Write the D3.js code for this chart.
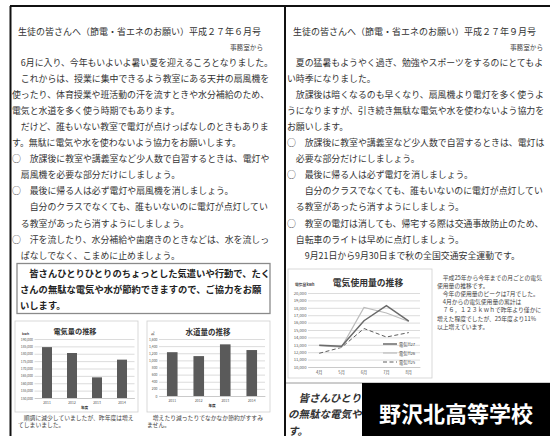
<!DOCTYPE html>
<html>
<head>
<meta charset="utf-8">
<script src="https://cdn.jsdelivr.net/npm/d3@7"></script>
<style>
  html, body { margin: 0; padding: 0; background: #fff; }
  svg { display: block; }
  text { font-family: "Noto Sans CJK JP", "Noto Sans", sans-serif; }
</style>
</head>
<body>
<svg id="sheet" width="550" height="436"></svg>
<script>
// ---- June issue ----
const juneTitle = "生徒の皆さんへ（節電・省エネのお願い）平成２７年６月号";
const sender = "事務室から";
const juneLines = [
  "　6月に入り、今年もいよいよ暑い夏を迎えるころとなりました。",
  "　これからは、授業に集中できるよう教室にある天井の扇風機を",
  "使ったり、体育授業や班活動の汗を流すときや水分補給のため、",
  "電気と水道を多く使う時期でもあります。",
  "　だけど、誰もいない教室で電灯が点けっぱなしのときもありま",
  "す。無駄に電気や水を使わないよう協力をお願いします。",
  "○　放課後に教室や講義室など少人数で自習するときは、電灯や",
  "　扇風機を必要な部分だけにしましょう。",
  "○　最後に帰る人は必ず電灯や扇風機を消しましょう。",
  "　　自分のクラスでなくても、誰もいないのに電灯が点灯してい",
  "　る教室があったら消すようにしましょう。",
  "○　汗を流したり、水分補給や歯磨きのときなどは、水を流しっ",
  "　ぱなしでなく、こまめに止めましょう。"
];
const juneAppeal = [
  "　皆さんひとりひとりのちょっとした気遣いや行動で、たく",
  "さんの無駄な電気や水が節約できますので、ご協力をお願",
  "いします。"
];
const powerCaption = ["　順調に減少していましたが、昨年度は増え", "てしまいました。"];
const waterCaption = ["　増えたり減ったりでなかなか節約がすすみ", "ません。"];

// yearly totals (bar charts)
const fiscalYears = ["2011", "2012", "2013", "2014"];
const powerKwh = [184500, 180500, 164000, 176000];
const powerTicks = [150000, 155000, 160000, 165000, 170000, 175000, 180000, 185000, 190000];
const waterM3 = [1230, 1120, 1450, 1290];
const waterTicks = [0, 200, 400, 600, 800, 1000, 1200, 1400, 1600];

// ---- September issue ----
const septTitle = "生徒の皆さんへ（節電・省エネのお願い）平成２７年９月号";
const septLines = [
  "　夏の猛暑もようやく過ぎ、勉強やスポーツをするのにとてもよ",
  "い時季になりました。",
  "　放課後は暗くなるのも早くなり、扇風機より電灯を多く使うよ",
  "うになりますが、引き続き無駄な電気や水を使わないよう協力を",
  "お願いします。",
  "○　放課後に教室や講義室など少人数で自習するときは、電灯は",
  "　必要な部分だけにしましょう。",
  "○　最後に帰る人は必ず電灯を消しましょう。",
  "　　自分のクラスでなくても、誰もいないのに電灯が点灯してい",
  "　る教室があったら消すようにしましょう。",
  "○　教室の電灯は消しても、帰宅する際は交通事故防止のため、",
  "　自転車のライトは早めに点灯しましょう。",
  "　　9月21日から9月30日まで秋の全国交通安全運動です。"
];
const septNote = [
  "　平成25年から今年までの月ごとの電気",
  "使用量の推移です。",
  "　今年の使用量のピークは7月でした。",
  "　4月からの電気使用量の累計は",
  "　７６，１２３ｋｗｈで昨年より僅かに",
  "増えた程度でしたが、25年度より11%",
  "以上増えています。"
];
const septAppeal = ["　皆さんひとりひ", "の無駄な電気や", "す。"];
const schoolName = "野沢北高等学校";

// monthly use (line chart)
const months = ["4月", "5月", "6月", "7月", "8月"];
const seriesNames = ["電気H27", "電気H26", "電気H25"];
const useH27 = [12950, 12800, 16250, 18300, 16200];
const useH26 = [12900, 12700, 18050, 17300, 16150];
const useH25 = [11850, 12650, 15200, 14050, 14650];
const monthlyTicks = [10000, 11000, 12000, 13000, 14000, 15000, 16000, 17000, 18000, 19000, 20000];

const svg = d3.select("#sheet");
svg.append("rect").attr("width", 550).attr("height", 436).attr("fill", "#fff");

// page frames
const frame = svg.append("g").attr("stroke", "#111").attr("stroke-width", 2);
frame.append("line").attr("x1", 10).attr("y1", 6).attr("x2", 550).attr("y2", 6);
frame.append("line").attr("x1", 10.5).attr("y1", 6).attr("x2", 10.5).attr("y2", 436);
frame.append("line").attr("x1", 285).attr("y1", 6).attr("x2", 285).attr("y2", 436);

// writes a block of lines, one <text> per line
function writeLines(arr, x, y0, dy, size, extra = {}) {
  const g = svg.append("g");
  g.selectAll("text").data(arr).join("text")
    .attr("x", x)
    .attr("y", (d, i) => y0 + i * dy)
    .attr("dominant-baseline", "central")
    .attr("font-size", size)
    .attr("font-weight", extra.weight || "normal")
    .attr("font-style", extra.style || "normal")
    .attr("text-anchor", extra.anchor || "start")
    .attr("fill", extra.fill || "#333")
    .text(d => d);
  return g;
}

// headers
writeLines([juneTitle], 18, 31.5, 0, 9);
writeLines([sender], 263, 46.5, 0, 6.6, { anchor: "end", fill: "#444" });
writeLines([septTitle], 293, 31.5, 0, 9);
writeLines([sender], 543, 46.5, 0, 6.6, { anchor: "end", fill: "#444" });

// body text
writeLines(juneLines, 12, 62, 16.1, 8.9);
writeLines(septLines, 287, 62, 16.1, 8.9);

// appeal box (June)
svg.append("rect").attr("x", 17).attr("y", 263.5).attr("width", 253).attr("height", 50)
  .attr("fill", "#fff").attr("stroke", "#8a8a8a").attr("stroke-width", 1.3);
writeLines(juneAppeal, 20, 273, 16, 9.3, { weight: "bold", fill: "#222" });

// bar chart helper
function barChart(o) {
  const g = svg.append("g");
  g.append("rect").attr("x", o.box[0]).attr("y", o.box[1]).attr("width", o.box[2]).attr("height", o.box[3])
    .attr("fill", "#fff").attr("stroke", "#cfcfcf").attr("stroke-width", 0.8);
  const x = d3.scaleBand().domain(o.cats).range(o.xr).paddingInner(0.6).paddingOuter(0.3);
  const y = d3.scaleLinear().domain(o.domain).range(o.yr);

  const ya = g.append("g").attr("transform", `translate(${o.xr[0]},0)`)
    .call(d3.axisLeft(y).tickValues(o.ticks).tickSize(-(o.xr[1] - o.xr[0])).tickPadding(1.5));
  ya.select(".domain").remove();
  ya.selectAll(".tick line").attr("stroke", "#c4c4c4").attr("stroke-width", 0.6);
  ya.selectAll(".tick text").attr("font-size", 3.4).attr("fill", "#555")
    .attr("font-family", "'Noto Sans', sans-serif");

  g.selectAll("rect.bar").data(o.values).join("rect").attr("class", "bar")
    .attr("x", (d, i) => x(o.cats[i]))
    .attr("y", d => y(d))
    .attr("width", x.bandwidth())
    .attr("height", d => y(o.domain[0]) - y(d))
    .attr("fill", "#5a5a5a");

  const xa = g.append("g").attr("transform", `translate(0,${o.yr[0]})`)
    .call(d3.axisBottom(x).tickSize(0));
  xa.select(".domain").attr("stroke", "#bdbdbd").attr("stroke-width", 0.6);
  xa.selectAll(".tick text").attr("y", 5).attr("dy", "0.35em").attr("font-size", 3.4)
    .attr("fill", "#555").attr("font-family", "'Noto Sans', sans-serif");

  g.append("text").attr("x", o.title[1]).attr("y", o.title[2]).attr("text-anchor", "middle")
    .attr("dominant-baseline", "central").attr("font-size", o.title[3]).attr("font-weight", "bold")
    .attr("fill", "#333").text(o.title[0]);
  g.append("text").attr("x", o.unit[1]).attr("y", o.unit[2]).attr("dominant-baseline", "central")
    .attr("font-size", 3.4).attr("font-weight", "bold").attr("fill", "#444").text(o.unit[0]);
  g.append("text").attr("x", (o.xr[0] + o.xr[1]) / 2).attr("y", o.yr[0] + 9.5).attr("text-anchor", "middle")
    .attr("dominant-baseline", "central").attr("font-size", 3.6).attr("font-weight", "bold")
    .attr("fill", "#333").text("年度");
}

barChart({
  box: [15, 321, 123, 91], cats: fiscalYears, values: powerKwh, ticks: powerTicks,
  domain: [150000, 190000], xr: [34.5, 134.5], yr: [398, 339],
  title: ["電気量の推移", 75, 331, 7.2], unit: ["kwh", 22, 333]
});
barChart({
  box: [147, 321, 123, 91], cats: fiscalYears, values: waterM3, ticks: waterTicks,
  domain: [0, 1600], xr: [159, 265], yr: [396, 339],
  title: ["水道量の推移", 208, 331, 7.5], unit: ["㎥", 151, 333]
});

writeLines(powerCaption, 18, 417, 7.5, 5.8, { fill: "#444" });
writeLines(waterCaption, 147, 417, 7.5, 5.8, { fill: "#444" });

// monthly line chart (September)
(function () {
  const g = svg.append("g");
  g.append("rect").attr("x", 288).attr("y", 269).attr("width", 144).attr("height", 109)
    .attr("fill", "#fff").attr("stroke", "#cfcfcf").attr("stroke-width", 0.8);
  const x = d3.scaleBand().domain(months).range([308, 420]);
  const y = d3.scaleLinear().domain([10000, 20000]).range([367, 293]);
  const cx = m => x(m) + x.bandwidth() / 2;

  const ya = g.append("g").attr("transform", "translate(308,0)")
    .call(d3.axisLeft(y).tickValues(monthlyTicks).tickSize(-112).tickPadding(1.5));
  ya.select(".domain").remove();
  ya.selectAll(".tick line").attr("stroke", "#c4c4c4").attr("stroke-width", 0.6);
  ya.selectAll(".tick text").attr("font-size", 4.2).attr("fill", "#555")
    .attr("font-family", "'Noto Sans', sans-serif");

  const xa = g.append("g").attr("transform", "translate(0,367)").call(d3.axisBottom(x).tickSize(0));
  xa.select(".domain").attr("stroke", "#bdbdbd").attr("stroke-width", 0.6);
  xa.selectAll(".tick text").attr("y", 6).attr("dy", "0.35em").attr("font-size", 4.2).attr("fill", "#555");

  const styles = [
    { data: useH27, stroke: "#6a6a6a", width: 1.5, dash: null },
    { data: useH26, stroke: "#bcbcbc", width: 1.2, dash: null },
    { data: useH25, stroke: "#5e5e5e", width: 1.0, dash: "4,2.5" }
  ];
  const line = d3.line().x((d, i) => cx(months[i])).y(d => y(d));
  // draw oldest first so the current year sits on top
  styles.slice().reverse().forEach(s => {
    g.append("path").attr("d", line(s.data)).attr("fill", "none")
      .attr("stroke", s.stroke).attr("stroke-width", s.width)
      .attr("stroke-dasharray", s.dash);
  });

  // legend
  styles.forEach((s, i) => {
    const ly = 344 + i * 9;
    g.append("line").attr("x1", 383).attr("x2", 397).attr("y1", ly).attr("y2", ly)
      .attr("stroke", s.stroke).attr("stroke-width", s.width).attr("stroke-dasharray", s.dash);
    g.append("text").attr("x", 399).attr("y", ly).attr("dominant-baseline", "central")
      .attr("font-size", 4.2).attr("fill", "#444").text(seriesNames[i]);
  });

  g.append("text").attr("x", 368).attr("y", 282).attr("text-anchor", "middle")
    .attr("dominant-baseline", "central").attr("font-size", 8.8).attr("font-weight", "bold")
    .attr("fill", "#333").text("電気使用量の推移");
  g.append("text").attr("x", 295).attr("y", 284).attr("dominant-baseline", "central")
    .attr("font-size", 3.8).attr("font-weight", "bold").attr("fill", "#444").text("電気量kwh");
})();

writeLines(septNote, 437, 277, 8.2, 5.8, { fill: "#444" });

// rule under the chart section
svg.append("line").attr("x1", 286).attr("x2", 550).attr("y1", 383).attr("y2", 383)
  .attr("stroke", "#9a9a9a").attr("stroke-width", 1);

// closing appeal (September), partly under the name plate
writeLines(septAppeal, 288, 397, 16.5, 10.5, { weight: "bold", style: "italic", fill: "#333" });

// school name plate
svg.append("rect").attr("x", 362).attr("y", 383).attr("width", 188).attr("height", 53).attr("fill", "#000");
svg.append("text").attr("x", 456).attr("y", 412).attr("text-anchor", "middle")
  .attr("dominant-baseline", "central").attr("font-size", 22).attr("font-weight", "bold")
  .attr("fill", "#fff").text(schoolName);
</script>
</body>
</html>
